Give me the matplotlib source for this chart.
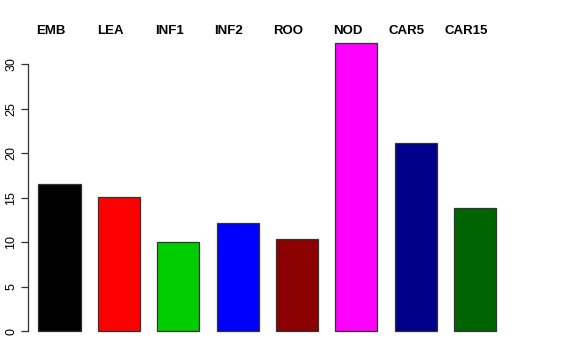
import numpy as np
import matplotlib
matplotlib.use("Agg")
import matplotlib.pyplot as plt
import matplotlib.transforms as mtransforms

# datos
groups = ["EMB", "LEA", "INF1", "INF2", "ROO", "NOD", "CAR5", "CAR15"]
values = [16.6, 15.1, 10.05, 12.2, 10.4, 32.4, 21.2, 13.9]
colors = ["#000000", "#FF0000", "#00CD00", "#0000FF", "#8B0000", "#FF00FF", "#00008B", "#006400"]
yticks = [0, 5, 10, 15, 20, 25, 30]

plt.rcParams["font.family"] = ["Liberation Sans", "DejaVu Sans"]

fig = plt.figure(figsize=(5.76, 3.6), dpi=100)
ax = fig.add_axes([0.0491, 0.0483, 0.8594, 0.8642])

xs = np.arange(1, len(groups) + 1)
ax.bar(xs, values, width=0.71, color=colors, edgecolor="#333333", linewidth=0.9)

ax.set_xlim(0.475, 8.81)
ax.set_ylim(-1.3, 33.7)
for s in ["top", "right", "bottom"]:
    ax.spines[s].set_visible(False)
ax.spines["left"].set_bounds(0, 30)
ax.spines["left"].set_color("#333333")
ax.spines["left"].set_linewidth(0.9)
ax.set_xticks([])
ax.set_yticks(yticks)
ax.set_yticklabels([str(t) for t in yticks], rotation=90, va="center", fontsize=9)
ax.tick_params(axis="y", length=5, width=0.9, color="#333333", pad=3)

trans = mtransforms.blended_transform_factory(ax.transData, ax.transAxes)
for x, g in zip(xs, groups):
    ax.text(x - 0.15, 1.0, g, transform=trans, ha="center", va="center",
            fontsize=9.5, fontweight="bold", clip_on=False)

fig.savefig("out.png", dpi=100)
